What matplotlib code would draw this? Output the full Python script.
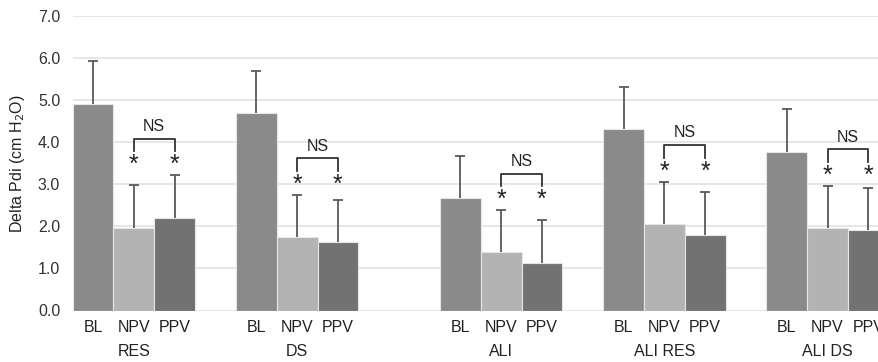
import matplotlib
matplotlib.use("Agg")
import matplotlib.pyplot as plt
import numpy as np

groups = ["RES", "DS", "ALI", "ALI RES", "ALI DS"]
conditions = ["BL", "NPV", "PPV"]
means_bl = [4.92, 4.70, 2.68, 4.31, 3.77]
means_npv = [1.96, 1.74, 1.38, 2.06, 1.95]
means_ppv = [2.19, 1.62, 1.14, 1.80, 1.91]
err_bl = [1.00, 1.00, 1.00, 1.00, 1.01]
err_npv = [1.02, 1.01, 1.00, 1.00, 1.01]
err_ppv = [1.02, 1.01, 1.01, 1.02, 0.99]
yticks = [0.0, 1.0, 2.0, 3.0, 4.0, 5.0, 6.0, 7.0]

# layout (slot offsets of each group, in bar widths)
group_start = [0, 4, 9, 13, 17]
colors = ["#8a8a8a", "#b3b3b3", "#727272"]

plt.rcParams['font.family'] = ['Liberation Sans', 'DejaVu Sans']
fig = plt.figure(figsize=(8.79, 3.62), dpi=100)
ax = fig.add_axes([72.7 / 879, 1 - 310.5 / 362, 1 - 72.7 / 879, (310.5 - 16) / 362])

FS = 11.5
means = [means_bl, means_npv, means_ppv]
errs = [err_bl, err_npv, err_ppv]
for ci in range(3):
    xs = np.array(group_start) + 0.5 + ci
    m = np.array(means[ci])
    tops = m + np.array(errs[ci])
    ax.bar(xs, m, width=1.0, color=colors[ci], edgecolor="#e6e6e6",
           linewidth=0.8, zorder=2)
    ax.vlines(xs, m, tops, color="#595959", linewidth=1.3, zorder=3)
    ax.plot(xs, tops, ls="none", marker="_", markersize=7, markeredgewidth=1.3,
            color="#595959", zorder=3)

for gi, g in enumerate(groups):
    top = max(means_npv[gi] + err_npv[gi], means_ppv[gi] + err_ppv[gi])
    x1 = group_start[gi] + 1.5
    x2 = group_start[gi] + 2.5
    for x in (x1, x2):
        ax.text(x, top + 0.24, "*", ha="center", va="center", fontsize=18,
                color="#222222", zorder=4)
    yb = top + 0.57
    yt = top + 0.87
    ax.plot([x1, x1, x2, x2], [yb, yt, yt, yb], color="#333333", lw=1.3, zorder=4)
    ax.text((x1 + x2) / 2, top + 1.16, "NS", ha="center", va="center",
            fontsize=FS, color="#222222", zorder=4)

ax.set_xlim(0, (879 - 72.7) / 40.8)
ax.set_ylim(0, 7.0)
ax.set_yticks(yticks)
ax.set_yticklabels([f"{v:.1f}" for v in yticks], fontsize=FS, color="#333333")
ax.yaxis.grid(True, color="#e2e2e2", linewidth=1.2, zorder=0)
ax.set_axisbelow(True)
for s in ax.spines.values():
    s.set_visible(False)
ax.tick_params(axis="y", length=0, pad=9)
ax.tick_params(axis="x", length=0)

xt, xl = [], []
for gi in range(5):
    for ci in range(3):
        xt.append(group_start[gi] + 0.5 + ci)
        xl.append(conditions[ci])
ax.set_xticks(xt)
ax.set_xticklabels(xl, fontsize=FS, color="#222222")
ax.tick_params(axis="x", pad=7)

for gi, g in enumerate(groups):
    ax.text(group_start[gi] + 1.5, -0.98, g, ha="center", va="center",
            fontsize=FS, color="#222222", clip_on=False)

ax.set_ylabel("Delta Pdi (cm H$_2$O)", fontsize=FS, color="#222222", labelpad=8)

fig.savefig("out.png", dpi=100)
